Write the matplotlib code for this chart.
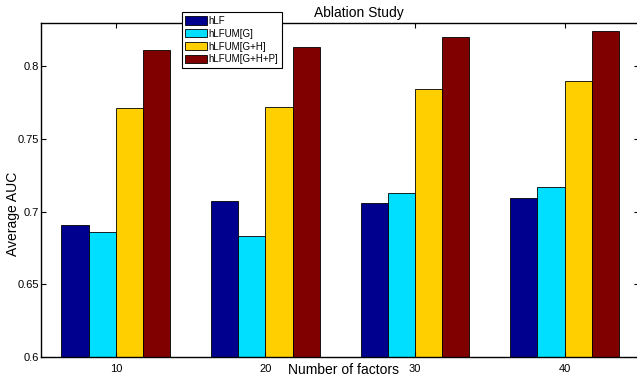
import numpy as np
import matplotlib
matplotlib.use("Agg")
import matplotlib.pyplot as plt

plt.rcParams["font.family"] = ["Liberation Sans", "DejaVu Sans"]

# number of latent factors and the average AUC of each model variant
factors = [10, 20, 30, 40]
models = ["hLF", "hLFUM[G]", "hLFUM[G+H]", "hLFUM[G+H+P]"]
auc_hlf = [0.691, 0.707, 0.706, 0.709]
auc_g = [0.686, 0.683, 0.713, 0.717]
auc_gh = [0.771, 0.772, 0.784, 0.790]
auc_ghp = [0.811, 0.813, 0.820, 0.824]
yticks = [0.6, 0.65, 0.7, 0.75, 0.8]
ytick_labels = ["0.6", "0.65", "0.7", "0.75", "0.8"]

colors = ["#00008F", "#00DFFF", "#FFCF00", "#800000"]

W, H = 637, 381
fig = plt.figure(figsize=(W / 100, H / 100), dpi=100)
# axes run slightly past the right edge of the canvas
left, right, top, bottom = 41, 639.4, 22.5, 357
ax = fig.add_axes([left / W, 1 - bottom / H, (right - left) / W, (bottom - top) / H])

x = np.array(factors, dtype=float)
w = 1.82
series = [auc_hlf, auc_g, auc_gh, auc_ghp]
for i, (vals, name, col) in enumerate(zip(series, models, colors)):
    ax.bar(x + (i - 1.5) * w, np.array(vals) - 0.6, width=w, bottom=0.6,
           color=col, edgecolor="black", linewidth=0.6, label=name)

ax.set_xlim(5, 45)
ax.set_ylim(0.6, 0.83)
ax.set_xticks(factors)
ax.set_xticklabels([str(f) for f in factors])
ax.set_yticks(yticks)
ax.set_yticklabels(ytick_labels)
ax.tick_params(direction="in", length=3.3, width=0.8, labelsize=8,
               top=True, right=True, color="black")
ax.tick_params(axis="y", pad=1.5)
ax.tick_params(axis="x", pad=5)
for s in ax.spines.values():
    s.set_linewidth(1.0)
    s.set_color("black")

fig.text(359 / W, 1 - 17.3 / H, "Ablation Study", ha="center", va="baseline", fontsize=10)
fig.text(344 / W, 1 - 374.3 / H, "Number of factors", ha="center", va="baseline", fontsize=10)
fig.text(13 / W, 1 - 214 / H, "Average AUC", ha="center", va="center",
         rotation=90, fontsize=10)

leg = fig.legend(loc="upper left", bbox_to_anchor=(182 / W, 1 - 12.3 / H),
                 borderaxespad=0, fontsize=7, frameon=True, fancybox=False,
                 framealpha=1, edgecolor="black", borderpad=0.35,
                 handlelength=2.25, handleheight=0.95, handletextpad=0.15,
                 labelspacing=0.3)
leg.get_frame().set_linewidth(0.8)

fig.savefig("out.png", dpi=100)
